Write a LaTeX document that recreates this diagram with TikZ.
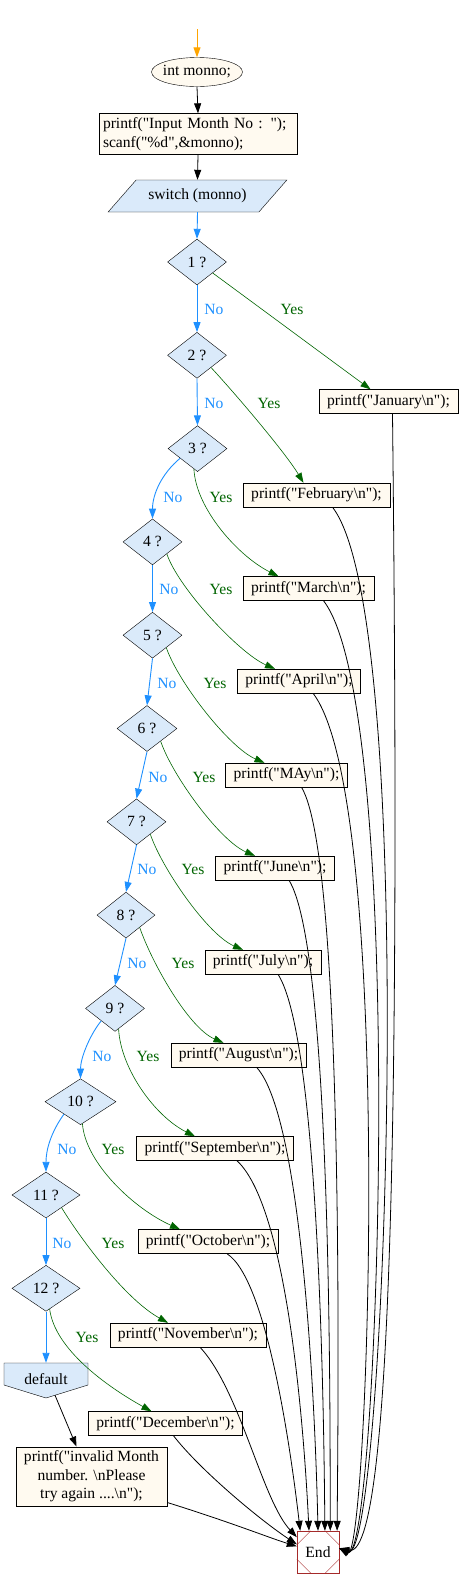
\documentclass[tikz,border=0pt]{standalone}
\usepackage{fontspec}
\newfontfamily\gvfont{Liberation Serif}
\usepackage{xcolor}
\usepackage{tikz}
\usetikzlibrary{shapes.geometric,arrows.meta}
\definecolor{boxfill}{HTML}{FFFAF0}
\definecolor{decfill}{HTML}{DAEAFA}
\definecolor{noblue}{HTML}{1E90FF}
\definecolor{yesgreen}{HTML}{006400}
\definecolor{startorange}{HTML}{FFA500}
\definecolor{endred}{HTML}{A52A2A}
\tikzset{
every node/.style={font=\gvfont\fontsize{15.6}{18.6}\selectfont},
startnode/.style={ellipse, draw, fill=boxfill, inner xsep=-4pt, inner ysep=0pt, minimum width=91pt, minimum height=29pt},
process/.style={rectangle, draw, fill=boxfill, inner xsep=8pt, inner ysep=0pt, minimum height=24pt},
decision/.style={diamond, draw, fill=decfill, inner sep=0pt, minimum height=46pt},
switchbox/.style={trapezium, trapezium left angle=41, trapezium right angle=139, trapezium stretches=true, draw, fill=decfill, minimum width=179pt, minimum height=32pt},
endnode/.style={rectangle, draw=endred, fill=white, minimum size=42pt, inner sep=0pt},
flowline/.style={draw=black, line width=0.8pt, -{Triangle[length=10pt,width=7pt]}},
noline/.style={draw=noblue, line width=0.9pt, -{Triangle[length=10pt,width=7pt]}},
yesline/.style={draw=yesgreen, line width=0.6pt, -{Triangle[length=10pt,width=7pt]}},
startline/.style={draw=startorange, line width=0.9pt, -{Triangle[length=10pt,width=7pt]}},
nolabel/.style={text=noblue},
yeslabel/.style={text=yesgreen}
}

\begin{document}
\begin{tikzpicture}[x=1pt,y=1pt]
  \useasboundingbox (0,0) rectangle (460,-1588);
  \coordinate (start) at (197,-29);
  \node[startnode] (init) at (197,-72) {int monno;};
  \node[process, text width=190pt, align=left, inner xsep=4pt, inner ysep=4pt] (input) at (198,-134) {printf("Input Month No : ");\\scanf("\%d",\&monno);};
  \node[switchbox] (switch) at (197.5,-196) {switch (monno)};
  \foreach \i/\x/\y/\w in {1/197/262/59, 2/197/355.3/59, 3/197.5/448.6/59, 4/152.5/541.9/59, 5/152.5/635.2/59, 6/147/728.5/60, 7/136.5/821.8/59, 8/126/915.1/58, 9/115/1008.4/59, 10/80.5/1101.7/71, 11/46/1195/68, 12/46/1288.3/68}
  \node[decision, minimum width=\w pt] (d\i) at (\x,-\y) {\i\ ?};
  \foreach \m/\t/\x/\y in {jan/January/388.5/401.5, feb/February/316.5/495, mar/March/308.5/588.5, apr/April/299/681, may/MAy/286.5/775, jun/June/275/868, jul/July/263/962, aug/August/238.5/1055, sep/September/215/1148.5, oct/October/208/1241.5, nov/November/188/1335, dec/December/165.5/1423.5}
  \node[process] (\m) at (\x,-\y) {printf("\t\textbackslash n");};
  \filldraw[fill=decfill] (4,-1363) -- (88,-1363) -- (88,-1385) -- (46,-1398) -- (4,-1385) -- cycle;
  \node[minimum width=84pt, minimum height=32pt] (dflt) at (46,-1379) {default};
  \node[process, align=center, inner ysep=4pt] (invalid) at (91.5,-1476.5) {printf("invalid Month\\number. \textbackslash nPlease\\try again ....\textbackslash n");};
  \node[endnode] (finish) at (318,-1552) {End};
  \foreach \c/\dx/\dy in {north west/14/-14, north east/-14/-14, south west/14/14, south east/-14/14}
  \draw[endred] ([xshift=\dx pt]finish.\c) -- ([yshift=\dy pt]finish.\c);

  \foreach \i/\x/\y in {1/214/309, 2/214/403, 3/173/497, 4/169/589, 5/167/683, 6/158/777, 7/147/869, 8/137/963.5, 9/102/1056.5, 10/67/1149.5, 11/62/1243.5}
  \node[nolabel] (no\i) at (\x,-\y) {No};
  \foreach \i/\x/\y in {1/292/309, 2/269/403, 3/221/497, 4/221/589, 5/215/683, 6/204/777, 7/193/869, 8/183/963.5, 9/148/1056.5, 10/113/1149.5, 11/113/1243.5, 12/87/1337}
  \node[yeslabel] (yes\i) at (\x,-\y) {Yes};

  \draw[startline] (start) -- (init.north);
  \draw[flowline] (init.south) -- (input.north);
  \draw[flowline] (input.south) -- (switch.north);
  \draw[noline] (switch.south) -- (d1.north);
  \draw[noline] (d1.south) -- (d2.north);
  \draw[noline] (d2.south) -- (d3.north);
  \draw[noline] (d3.-151) .. controls +(-18,-15) and +(0,25) .. (d4.north);
  \draw[noline] (d4.south) -- (d5.north);
  \draw[noline] (d5.south) -- (d6.north);
  \draw[noline] (d6.south) -- (d7.north);
  \draw[noline] (d7.south) -- (d8.north);
  \draw[noline] (d8.south) -- (d9.north);
  \draw[noline] (d9.-138) .. controls +(-12,-15) and +(0,20) .. (d10.north);
  \draw[noline] (d10.-143) .. controls +(-13,-18) and +(0,22) .. (d11.north);
  \draw[noline] (d11.south) -- (d12.north);
  \draw[noline] (d12.south) -- (dflt.north);

  \draw[yesline] (d1.-35) .. controls +(30,-22) and +(-30,22) .. ([xshift=-18pt]jan.north);
  \draw[yesline] (d2.-41) .. controls +(25,-27) and +(-18,30) .. ([xshift=-13pt]feb.north);
  \draw[yesline] (d3.-100) .. controls +(2,-40) and +(-40,20) .. ([xshift=-30pt]mar.north);
  \draw[yesline] (d4.-40) .. controls +(12,-35) and +(-35,15) .. ([xshift=-24pt]apr.north);
  \draw[yesline] (d5.-42) .. controls +(12,-35) and +(-35,15) .. ([xshift=-22pt]may.north);
  \draw[yesline] (d6.-43) .. controls +(12,-35) and +(-35,15) .. ([xshift=-20pt]jun.north);
  \draw[yesline] (d7.-42) .. controls +(12,-35) and +(-35,15) .. ([xshift=-20pt]jul.north);
  \draw[yesline] (d8.-42) .. controls +(12,-35) and +(-35,15) .. ([xshift=-15pt]aug.north);
  \draw[yesline] (d9.-80) .. controls +(2,-40) and +(-40,20) .. ([xshift=-20pt]sep.north);
  \draw[yesline] (d10.-85) .. controls +(3,-40) and +(-45,20) .. ([xshift=-28pt]oct.north);
  \draw[yesline] (d11.-39) .. controls +(15,-25) and +(-45,25) .. ([xshift=-20pt]nov.north);
  \draw[yesline] (d12.-80) .. controls +(5,-40) and +(-45,25) .. ([xshift=-14pt]dec.north);

  \draw[flowline] ([xshift=9pt]dflt.south) -- ([xshift=-15pt]invalid.north);
  \draw[flowline] ([xshift=4pt]jan.south) .. controls (400,-1100) and (392,-1560) .. (finish.10);
  \draw[flowline] ([xshift=16pt]feb.south) .. controls (420,-620) and (385,-1565) .. (finish.10);
  \draw[flowline] ([xshift=15pt]mar.south) .. controls (408,-710) and (378,-1565) .. (finish.10);
  \draw[flowline] ([xshift=14pt]apr.south) .. controls (395,-800) and (368,-1565) .. (finish.10);
  \draw[flowline] ([xshift=15pt]may.south) .. controls (345,-860) and (338,-1420) .. (finish.48);
  \draw[flowline] ([xshift=14pt]jun.south) .. controls (332,-950) and (330,-1420) .. (finish.60);
  \draw[flowline] ([xshift=15pt]jul.south) .. controls (320,-1040) and (324,-1430) .. (finish.72);
  \draw[flowline] ([xshift=18pt]aug.south) .. controls (305,-1120) and (316,-1440) .. (finish.90);
  \draw[flowline] ([xshift=22pt]sep.south) .. controls (290,-1210) and (305,-1450) .. (finish.113);
  \draw[flowline] ([xshift=19pt]oct.south) .. controls (268,-1280) and (292,-1460) .. (finish.130);
  \draw[flowline] ([xshift=12pt]nov.south) .. controls (240,-1390) and (262,-1500) .. (finish.145);
  \draw[flowline] ([xshift=8pt]dec.south) .. controls (200,-1470) and (260,-1520) .. (finish.160);
  \draw[flowline] ([yshift=4pt]invalid.south east) .. controls (230,-1522) and (270,-1538) .. (finish.165);
\end{tikzpicture}
\end{document}
